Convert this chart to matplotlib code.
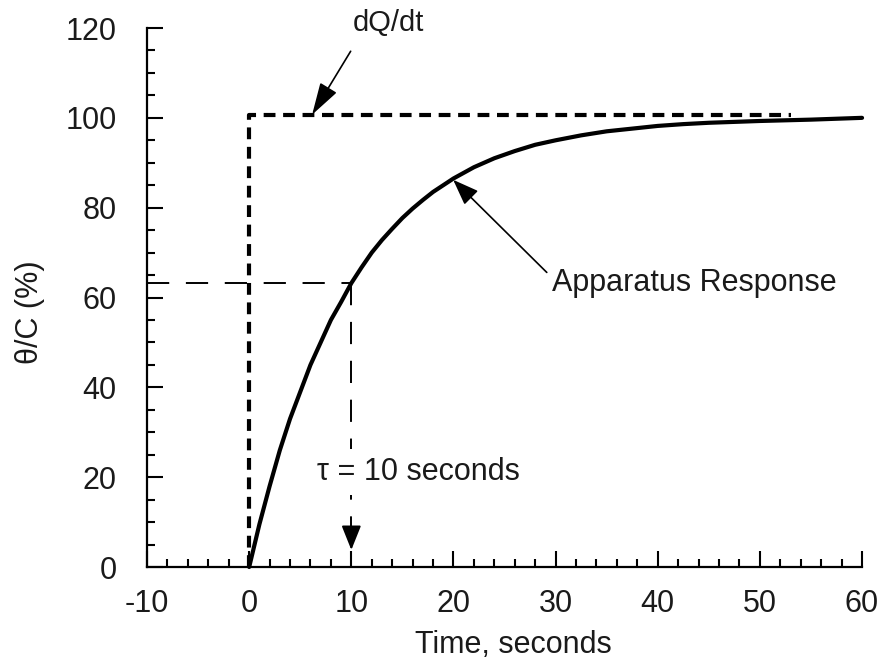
import matplotlib.pyplot as plt
from matplotlib.ticker import MultipleLocator

plt.rcParams["font.family"] = ["Liberation Sans", "DejaVu Sans"]
plt.rcParams["lines.scale_dashes"] = False
plt.rcParams["axes.unicode_minus"] = False

# apparatus response (percent of final value)
time_s = [0, 1, 2, 3, 4, 5, 6, 7, 8, 9, 10, 11, 12, 13, 14, 15, 16, 17, 18,
          19, 20, 22, 24, 26, 28, 30, 32.5, 35, 37.5, 40, 42.5, 45, 47.5,
          50, 55, 60]
response = [0, 9.5, 18, 26, 33, 39, 45, 50, 55, 59, 63.2, 66.7, 70, 72.8,
            75.3, 77.7, 79.8, 81.7, 83.5, 85, 86.5, 89, 91, 92.6, 94, 95,
            96.1, 97, 97.6, 98.2, 98.6, 98.9, 99.1, 99.3, 99.6, 100]

# step input dQ/dt
step_time = [0, 0, 53]
step_level = [0, 100.6, 100.6]

# time constant marker
tau = 10
tau_level = 63.2

ink = "#1a1a1a"
fs = 22

fig = plt.figure(figsize=(8.81, 6.62), dpi=100)
ax = fig.add_axes([0.1669, 0.1435, 0.8116, 0.8142])

# 1. step and response
ax.plot(step_time, step_level, color="black", lw=3, dashes=(8.5, 5.5),
        solid_capstyle="butt", dash_capstyle="butt", clip_on=False)
ax.plot(time_s, response, color="black", lw=3, solid_capstyle="round",
        solid_joinstyle="round", clip_on=False)

# 2. tau guide lines
ax.plot([-10, tau], [tau_level, tau_level], color="black", lw=1.4, dashes=(16, 12))
ax.plot([tau, tau], [tau_level, 0], color="black", lw=1.4, dashes=(16, 12))
ax.annotate("", xy=(tau, 3.8), xytext=(tau, 9),
            arrowprops=dict(arrowstyle="-|>,head_length=15,head_width=6",
                            mutation_scale=1, color="black", lw=1.4,
                            shrinkA=0, shrinkB=0))
ax.text(16.6, 21.2, "τ = 10 seconds", fontsize=fs, color=ink, ha="center", va="center",
        bbox=dict(facecolor="white", edgecolor="none", pad=6))

# 3. annotations
ax.annotate("dQ/dt", xy=(6.16, 100.7), xytext=(13.6, 121.2), fontsize=21, color=ink,
            ha="center", va="center", annotation_clip=False,
            arrowprops=dict(arrowstyle="-|>,head_length=20,head_width=6",
                            mutation_scale=1, color="black", lw=1.2,
                            shrinkA=10, shrinkB=0, relpos=(0.1, 0)))
ax.annotate("Apparatus Response", xy=(19.97, 86.2), xytext=(29.6, 63.2), fontsize=fs,
            color=ink, ha="left", va="center",
            arrowprops=dict(arrowstyle="-|>,head_length=16,head_width=6",
                            mutation_scale=1, color="black", lw=1.2,
                            shrinkA=2, shrinkB=0, relpos=(0, 0.7)))

# 4. axes styling
ax.set_xlim(-10, 60)
ax.set_ylim(0, 120)
ax.xaxis.set_major_locator(MultipleLocator(10))
ax.xaxis.set_minor_locator(MultipleLocator(2))
ax.yaxis.set_major_locator(MultipleLocator(20))
ax.yaxis.set_minor_locator(MultipleLocator(5))
for side in ["top", "right"]:
    ax.spines[side].set_visible(False)
for side in ["left", "bottom"]:
    ax.spines[side].set_linewidth(1.6)
ax.tick_params(which="major", direction="in", length=11.5, width=1.5,
               labelsize=fs, labelcolor=ink)
ax.tick_params(axis="x", which="major", pad=16)
ax.tick_params(axis="y", which="major", pad=22)
ax.tick_params(which="minor", direction="in", length=6, width=1.5)

ax.set_xlabel("Time, seconds", fontsize=fs, color=ink)
ax.set_ylabel("θ/C (%)", fontsize=fs, color=ink)
ax.xaxis.set_label_coords(0.512, -0.145)
ax.xaxis.label.set_va("center")
ax.yaxis.set_label_coords(-0.164, 0.473)
ax.yaxis.label.set_va("center")

fig.savefig("out.png", dpi=100)
